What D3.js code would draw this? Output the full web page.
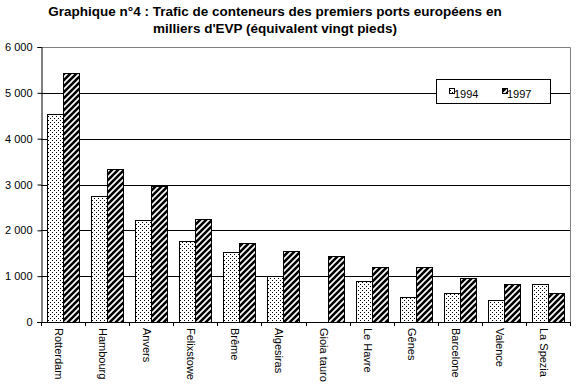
<!DOCTYPE html>
<html><head><meta charset="utf-8">
<script src="https://cdn.jsdelivr.net/npm/d3@7"></script>
<style>
body{margin:0;background:#fff;}
svg{display:block;font-family:"Liberation Sans",Arial,sans-serif;}
</style></head>
<body>
<svg id="c" width="578" height="385"></svg>
<script>
const categories = ["Rotterdam","Hambourg","Anvers","Felixstowe","Brême","Algesiras","Gioia tauro","Le Havre","Gênes","Barcelone","Valence","La Spezia"];
const series1994 = [4530,2750,2220,1770,1530,1010,0,890,540,630,470,840];
const series1997 = [5430,3340,2970,2250,1720,1550,1450,1190,1190,950,840,630];
const seriesNames = ["1994","1997"];
const yTicks = [0,1000,2000,3000,4000,5000,6000];
const titleLines = ["Graphique n°4 : Trafic de conteneurs des premiers ports européens en","milliers d'EVP (équivalent vingt pieds)"];

const svg = d3.select("#c");
const pLeft = 41, pRight = 570, pTop = 47, pBottom = 322;

const defs = svg.append("defs");
const dots = defs.append("pattern").attr("id","dots").attr("patternUnits","userSpaceOnUse").attr("width",4).attr("height",4);
dots.append("rect").attr("width",4).attr("height",4).attr("fill","#fff");
dots.append("rect").attr("x",0).attr("y",0).attr("width",1).attr("height",1).attr("fill","#000");
dots.append("rect").attr("x",2).attr("y",2).attr("width",1).attr("height",1).attr("fill","#000");
const hatch = defs.append("pattern").attr("id","hatch").attr("patternUnits","userSpaceOnUse").attr("width",6).attr("height",6);
hatch.append("rect").attr("width",6).attr("height",6).attr("fill","#fff");
hatch.append("path").attr("d","M-1,1 L1,-1 M0,6 L6,0 M5,7 L7,5").attr("stroke","#000").attr("stroke-width",2.6).attr("stroke-linecap","square");

const x = d3.scaleBand().domain(categories).range([pLeft,pRight]);
const inner = d3.scaleBand().domain(seriesNames).range([0, x.bandwidth()]).paddingInner(0).paddingOuter(0.38);
const y = d3.scaleLinear().domain([0,6000]).range([pBottom,pTop]);
const fmt = v => d3.format(",")(v).replace(/,/g," ");

// title
svg.append("g").selectAll("text").data(titleLines).join("text")
  .attr("x",275).attr("y",(d,i)=>16+i*17).attr("text-anchor","middle")
  .attr("font-weight","bold").attr("font-size",13.5).text(d=>d);

// gridlines
svg.append("g").selectAll("line").data(yTicks.filter(t=>t>0 && t<6000)).join("line")
  .attr("x1",pLeft).attr("x2",pRight).attr("y1",d=>Math.round(y(d))+0.5).attr("y2",d=>Math.round(y(d))+0.5)
  .attr("stroke","#000").attr("stroke-width",1);
// plot border top/right
svg.append("path").attr("d",`M${pLeft},${Math.round(y(6000))+0.5}H${pRight+0.5}V${pBottom}`).attr("fill","none").attr("stroke","#808080");

// bars
const data = categories.map((c,i)=>({c, v:[series1994[i],series1997[i]]}));
const g = svg.append("g");
data.forEach(d=>{
  d.v.forEach((v,j)=>{
    if(v<=0) return;
    const bx = x(d.c)+inner(seriesNames[j]);
    g.append("rect").attr("x",Math.round(bx)+0.5).attr("y",Math.round(y(v))+0.5)
      .attr("width",Math.round(inner.bandwidth()))
      .attr("height",Math.round(y(0))-Math.round(y(v)))
      .attr("fill", j===0?"url(#dots)":"url(#hatch)").attr("stroke","#000").attr("stroke-width",1);
  });
});

// y axis
const yAxis = d3.axisLeft(y).tickValues(yTicks).tickFormat(fmt).tickSize(4).tickPadding(5);
const ya = svg.append("g").attr("transform",`translate(${pLeft+0.5},0)`).call(yAxis);
ya.select(".domain").attr("stroke","#000");
ya.selectAll(".tick line").attr("stroke","#000");
ya.selectAll("text").attr("font-size",11).attr("fill","#000").attr("font-family","Liberation Sans, Arial");

// x axis
const ticksX = categories.map(c=>x(c)).concat([pRight]);
svg.append("line").attr("x1",pLeft-4).attr("x2",pRight+0.5).attr("y1",pBottom+0.5).attr("y2",pBottom+0.5).attr("stroke","#000");
svg.append("g").selectAll("line").data(ticksX).join("line")
  .attr("x1",d=>Math.round(d)+0.5).attr("x2",d=>Math.round(d)+0.5).attr("y1",pBottom).attr("y2",pBottom+4).attr("stroke","#000");
svg.append("g").selectAll("text").data(categories).join("text")
  .attr("transform",d=>`translate(${x(d)+x.bandwidth()/2-8},328) rotate(90)`)
  .attr("font-size",11).attr("fill","#000").text(d=>d);

// legend
const lg = svg.append("g");
lg.append("rect").attr("x",436.5).attr("y",79.5).attr("width",114).attr("height",24).attr("fill","#fff").attr("stroke","#000");
const items = [{n:seriesNames[0],f:"url(#dots)",x:449},{n:seriesNames[1],f:"url(#hatch)",x:502}];
items.forEach(it=>{
  lg.append("rect").attr("x",it.x+0.5).attr("y",88.5).attr("width",5).attr("height",5).attr("fill",it.f).attr("stroke","#000");
  lg.append("text").attr("x",it.x+5).attr("y",98).attr("font-size",11).text(it.n);
});
</script>
</body></html>
